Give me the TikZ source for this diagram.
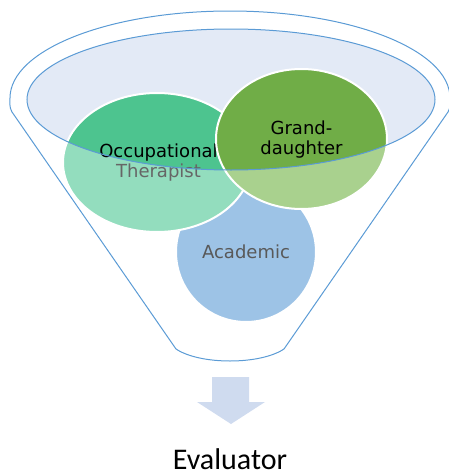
\documentclass[tikz,border=0pt]{standalone}
\usepackage{fontspec}
\usepackage{tikz}
\newfontfamily\bubblefont{DejaVu Sans}
\newfontfamily\evalfont{Carlito}
\definecolor{rimline}{HTML}{5B9BD5}
\definecolor{rimfill}{HTML}{E3EAF6}
\definecolor{occdark}{HTML}{4DC48F}
\definecolor{occlight}{HTML}{93DDBE}
\definecolor{granddark}{HTML}{70AD47}
\definecolor{grandlight}{HTML}{A9D18E}
\definecolor{acadfill}{HTML}{9DC3E6}
\definecolor{arrowfill}{HTML}{CFDBEF}
\tikzset{bubble text/.style={font=\bubblefont\fontsize{18}{20}\selectfont,align=center,inner sep=0pt},
}

\begin{document}
\begin{tikzpicture}[x=1pt,y=-1pt,
		funnel/.style={draw=rimline,line width=1pt},
		bubble edge/.style={draw=white,line width=2pt}]
		\useasboundingbox (0,0) rectangle (448,474);
		
		% funnel body and rim
		\path[funnel] (176,349) -- (12,112) .. controls (9,107) and (10,102) .. (10,98)
		arc[start angle=180,end angle=360,x radius=220,y radius=87]
		.. controls (450,102) and (451,107) .. (448,112) -- (284,349)
		.. controls (260,365) and (200,365) .. cycle;
		\fill[rimfill] (231,99.5) ellipse [x radius=204,y radius=70.5];
		
		% academic
		\fill[acadfill] (246,252) ellipse [x radius=70,y radius=70];
		\path[bubble edge] (246,252) ellipse [x radius=70,y radius=70];
		\node[bubble text,text=black!65] (acad) at (246,252) {Academic};
		
		% occupational therapist
		\fill[occlight] (157,162.5) ellipse [x radius=94,y radius=69.5];
		\begin{scope}
			\clip (231,99.5) ellipse [x radius=204,y radius=70.5];
			\fill[occdark] (157,162.5) ellipse [x radius=94,y radius=69.5];
		\end{scope}
		\path[bubble edge] (157,162.5) ellipse [x radius=94,y radius=69.5];
		\node[bubble text] (occ) at (158.5,163) {Occupational\\\textcolor{black!60}{Therapist}};
		
		% granddaughter
		\fill[grandlight] (301.5,139) ellipse [x radius=85.5,y radius=70];
		\begin{scope}
			\clip (231,99.5) ellipse [x radius=204,y radius=70.5];
			\fill[granddark] (301.5,139) ellipse [x radius=85.5,y radius=70];
		\end{scope}
		\path[bubble edge] (301.5,139) ellipse [x radius=85.5,y radius=70];
		
		\path[funnel] (231,99.5) ellipse [x radius=204,y radius=70.5];
		\node[bubble text] (grand) at (301.5,140) {Grand-\\daughter};
		
		% arrow down to evaluator
		\fill[arrowfill] (212,377) -- (249,377) -- (249,402) -- (265,402) -- (231,424)
		-- (197,402) -- (212,402) -- cycle;
		\node[font=\evalfont\fontsize{30}{32}\selectfont,inner sep=0pt] (eval) at (230,459) {Evaluator};
		\end{tikzpicture}
\end{document}
